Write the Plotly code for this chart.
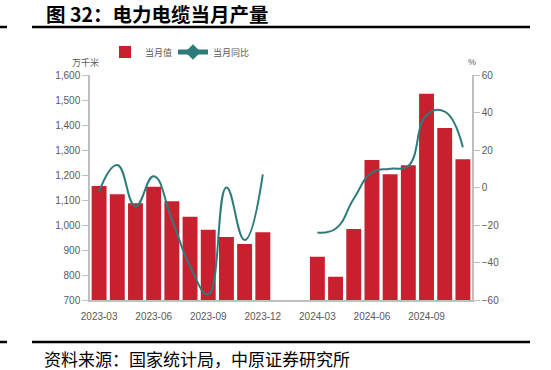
import plotly.graph_objects as go

months = ["2023-03", "2023-04", "2023-05", "2023-06", "2023-07", "2023-08", "2023-09",
          "2023-10", "2023-11", "2023-12", "2024-01", "2024-02", "2024-03", "2024-04",
          "2024-05", "2024-06", "2024-07", "2024-08", "2024-09", "2024-10", "2024-11"]
output_value = [1156, 1123, 1087, 1153, 1095, 1033, 981, 952, 924, 971,
                None, None, 873, 793, 984, 1260, 1203, 1239, 1525, 1388, 1263]
yoy_pct = [-2, 12, -10, 6, -17, -42, -57, 0, -28, 7,
           None, None, -24, -22, -6, 8, 10, 11.5, 38.5, 40.5, 21.5]
tick_labels = ["2023-03", "2023-06", "2023-09", "2023-12", "2024-03", "2024-06", "2024-09"]

BAR = "#C8202E"
TEAL = "#2E7B7B"
GRAY = "#595959"
AXIS = "#BFBFBF"
CJK = "Noto Sans CJK SC"
LAT = "Liberation Sans, Arial, sans-serif"

# plot area in pixels: x 90..472, y 75..300
L, R, T, B = 90, 472, 75, 300
W, H = 551, 370
def px(x):
    return (x - L) / (R - L)
def py(y):
    return (B - y) / (B - T)

fig = go.Figure()
fig.add_trace(go.Bar(x=months, y=output_value, name="当月值", marker=dict(color=BAR, line=dict(width=0)),
                     yaxis="y", legend="legend"))
fig.add_trace(go.Scatter(x=months, y=yoy_pct, name="当月同比", mode="lines",
                         line=dict(color=TEAL, width=2, shape="spline", smoothing=1.3),
                         connectgaps=False, yaxis="y2", showlegend=False))
# legend-only entry for the line (line with marker)
fig.add_trace(go.Scatter(x=[None], y=[None], name="当月同比", mode="lines+markers",
                         line=dict(color=TEAL, width=2), marker=dict(color=TEAL, size=5, symbol="diamond"),
                         yaxis="y2", showlegend=True, legend="legend2"))

shapes = [
    dict(type="line", xref="paper", yref="paper", x0=px(0), x1=px(7), y0=py(27), y1=py(27),
         line=dict(color="black", width=2.5)),
    dict(type="line", xref="paper", yref="paper", x0=px(32), x1=px(530), y0=py(27), y1=py(27),
         line=dict(color="black", width=2.5)),
    dict(type="line", xref="paper", yref="paper", x0=px(0), x1=px(7), y0=py(342), y1=py(342),
         line=dict(color="black", width=2.5)),
    dict(type="line", xref="paper", yref="paper", x0=px(32), x1=px(530), y0=py(342), y1=py(342),
         line=dict(color="black", width=2.5)),
]

annotations = [
    dict(text="<b>图 32：电力电缆当月产量</b>", xref="paper", yref="paper", x=px(44), y=py(13),
         xanchor="left", yanchor="middle", showarrow=False,
         font=dict(family=CJK, size=19.5, color="black")),
    dict(text="资料来源：国家统计局，中原证券研究所", xref="paper", yref="paper", x=px(42), y=py(358),
         xanchor="left", yanchor="middle", showarrow=False,
         font=dict(family=CJK, size=17, color="black")),
    dict(text="万千米", xref="paper", yref="paper", x=px(101), y=py(62),
         xanchor="right", yanchor="middle", showarrow=False,
         font=dict(family=CJK, size=9, color=GRAY)),
    dict(text="%", xref="paper", yref="paper", x=px(472), y=py(62),
         xanchor="center", yanchor="middle", showarrow=False,
         font=dict(family=LAT, size=9, color=GRAY)),
]

legend_common = dict(orientation="h", xanchor="left", yanchor="middle",
                     font=dict(family=CJK, size=9, color=GRAY), bgcolor="rgba(0,0,0,0)",
                     itemsizing="constant")

fig.update_layout(
    width=W, height=H,
    margin=dict(l=L, r=W - R, t=T, b=H - B, pad=0),
    paper_bgcolor="white", plot_bgcolor="white",
    bargap=0.18,
    showlegend=True,
    legend=dict(x=px(105), y=py(52), **legend_common),
    legend2=dict(x=px(173), y=py(52), **legend_common),
    xaxis=dict(type="category", categoryorder="array", categoryarray=months,
               tickmode="array", tickvals=tick_labels, ticktext=tick_labels,
               showgrid=False, showline=True, linecolor=AXIS, linewidth=1.5,
               ticks="", tickfont=dict(family=LAT, size=10, color=GRAY), ticklabelstandoff=6,
               zeroline=False),
    yaxis=dict(range=[700, 1600], dtick=100, tickformat=",", showgrid=False,
               showline=True, linecolor=AXIS, linewidth=1.5, ticks="outside", ticklen=6,
               tickcolor=AXIS, tickfont=dict(family=LAT, size=10, color=GRAY), zeroline=False),
    yaxis2=dict(range=[-60, 60], dtick=20, overlaying="y", side="right", showgrid=False,
                showline=True, linecolor=AXIS, linewidth=1.5, ticks="outside", ticklen=6,
                tickcolor=AXIS, tickfont=dict(family=LAT, size=10, color=GRAY), zeroline=False),
    shapes=shapes,
    annotations=annotations,
)

fig.write_html("out.html", config={"displayModeBar": False},
               post_script="document.body.style.margin='0';document.body.style.padding='0';")
